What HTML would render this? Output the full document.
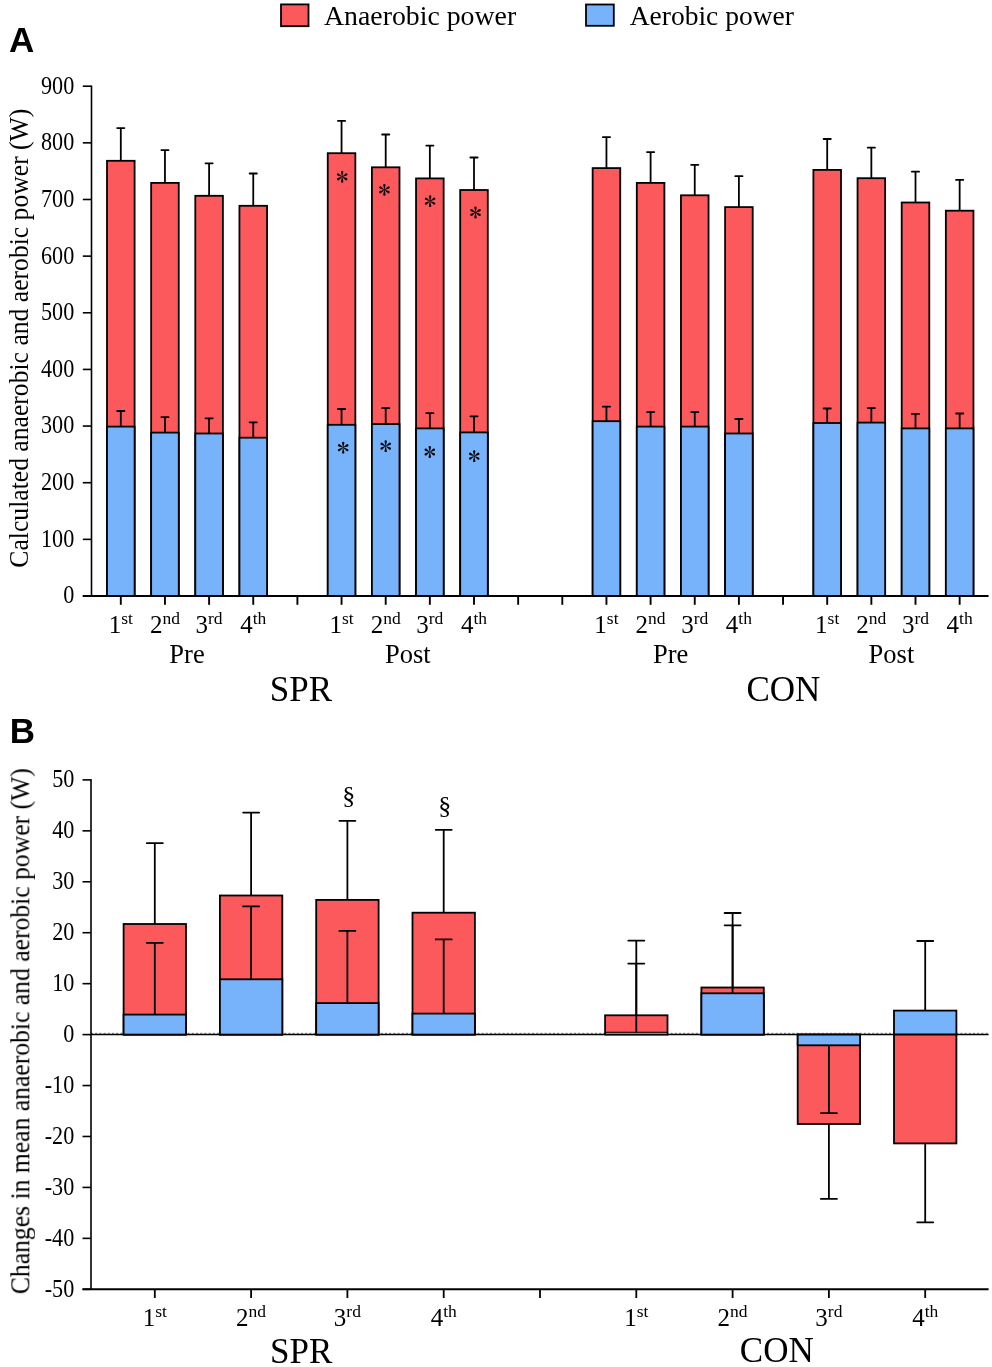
<!DOCTYPE html><html><head><meta charset="utf-8"><style>html,body{margin:0;padding:0;background:#fff;overflow:hidden}svg{display:block}</style></head><body><svg width="992" height="1367" viewBox="0 0 992 1367">
<rect width="992" height="1367" fill="#fff"/>
<rect x="281" y="4.4" width="27.5" height="21.8" fill="#FC595C" stroke="#000" stroke-width="1.8"/>
<rect x="586" y="4.5" width="27.8" height="21.3" fill="#77B3FB" stroke="#000" stroke-width="1.8"/>
<rect x="107.00" y="160.8" width="27.6" height="435.20" fill="#FC595C" stroke="#000" stroke-width="1.8"/>
<rect x="107.00" y="426.6" width="27.6" height="169.40" fill="#77B3FB" stroke="#000" stroke-width="1.8"/>
<line x1="120.8" y1="160.8" x2="120.8" y2="128.1" stroke="#000" stroke-width="1.8"/><line x1="117.2" y1="128.1" x2="124.39999999999999" y2="128.1" stroke="#000" stroke-width="1.8" stroke-linecap="round"/>
<line x1="120.8" y1="426.6" x2="120.8" y2="411.0" stroke="#000" stroke-width="1.8"/><line x1="117.2" y1="411.0" x2="124.39999999999999" y2="411.0" stroke="#000" stroke-width="1.8" stroke-linecap="round"/>
<rect x="151.15" y="182.9" width="27.6" height="413.10" fill="#FC595C" stroke="#000" stroke-width="1.8"/>
<rect x="151.15" y="432.6" width="27.6" height="163.40" fill="#77B3FB" stroke="#000" stroke-width="1.8"/>
<line x1="164.95" y1="182.9" x2="164.95" y2="150.1" stroke="#000" stroke-width="1.8"/><line x1="161.35" y1="150.1" x2="168.54999999999998" y2="150.1" stroke="#000" stroke-width="1.8" stroke-linecap="round"/>
<line x1="164.95" y1="432.6" x2="164.95" y2="417.2" stroke="#000" stroke-width="1.8"/><line x1="161.35" y1="417.2" x2="168.54999999999998" y2="417.2" stroke="#000" stroke-width="1.8" stroke-linecap="round"/>
<rect x="195.30" y="195.8" width="27.6" height="400.20" fill="#FC595C" stroke="#000" stroke-width="1.8"/>
<rect x="195.30" y="433.5" width="27.6" height="162.50" fill="#77B3FB" stroke="#000" stroke-width="1.8"/>
<line x1="209.1" y1="195.8" x2="209.1" y2="163.3" stroke="#000" stroke-width="1.8"/><line x1="205.5" y1="163.3" x2="212.7" y2="163.3" stroke="#000" stroke-width="1.8" stroke-linecap="round"/>
<line x1="209.1" y1="433.5" x2="209.1" y2="418.3" stroke="#000" stroke-width="1.8"/><line x1="205.5" y1="418.3" x2="212.7" y2="418.3" stroke="#000" stroke-width="1.8" stroke-linecap="round"/>
<rect x="239.45" y="205.8" width="27.6" height="390.20" fill="#FC595C" stroke="#000" stroke-width="1.8"/>
<rect x="239.45" y="437.7" width="27.6" height="158.30" fill="#77B3FB" stroke="#000" stroke-width="1.8"/>
<line x1="253.25" y1="205.8" x2="253.25" y2="173.5" stroke="#000" stroke-width="1.8"/><line x1="249.65" y1="173.5" x2="256.85" y2="173.5" stroke="#000" stroke-width="1.8" stroke-linecap="round"/>
<line x1="253.25" y1="437.7" x2="253.25" y2="422.3" stroke="#000" stroke-width="1.8"/><line x1="249.65" y1="422.3" x2="256.85" y2="422.3" stroke="#000" stroke-width="1.8" stroke-linecap="round"/>
<rect x="327.75" y="153.2" width="27.6" height="442.80" fill="#FC595C" stroke="#000" stroke-width="1.8"/>
<rect x="327.75" y="424.8" width="27.6" height="171.20" fill="#77B3FB" stroke="#000" stroke-width="1.8"/>
<line x1="341.55" y1="153.2" x2="341.55" y2="120.9" stroke="#000" stroke-width="1.8"/><line x1="337.95" y1="120.9" x2="345.15000000000003" y2="120.9" stroke="#000" stroke-width="1.8" stroke-linecap="round"/>
<line x1="341.55" y1="424.8" x2="341.55" y2="409.0" stroke="#000" stroke-width="1.8"/><line x1="337.95" y1="409.0" x2="345.15000000000003" y2="409.0" stroke="#000" stroke-width="1.8" stroke-linecap="round"/>
<rect x="371.90" y="167.3" width="27.6" height="428.70" fill="#FC595C" stroke="#000" stroke-width="1.8"/>
<rect x="371.90" y="424.1" width="27.6" height="171.90" fill="#77B3FB" stroke="#000" stroke-width="1.8"/>
<line x1="385.7" y1="167.3" x2="385.7" y2="134.5" stroke="#000" stroke-width="1.8"/><line x1="382.09999999999997" y1="134.5" x2="389.3" y2="134.5" stroke="#000" stroke-width="1.8" stroke-linecap="round"/>
<line x1="385.7" y1="424.1" x2="385.7" y2="408.1" stroke="#000" stroke-width="1.8"/><line x1="382.09999999999997" y1="408.1" x2="389.3" y2="408.1" stroke="#000" stroke-width="1.8" stroke-linecap="round"/>
<rect x="416.05" y="178.4" width="27.6" height="417.60" fill="#FC595C" stroke="#000" stroke-width="1.8"/>
<rect x="416.05" y="428.4" width="27.6" height="167.60" fill="#77B3FB" stroke="#000" stroke-width="1.8"/>
<line x1="429.85" y1="178.4" x2="429.85" y2="145.6" stroke="#000" stroke-width="1.8"/><line x1="426.25" y1="145.6" x2="433.45000000000005" y2="145.6" stroke="#000" stroke-width="1.8" stroke-linecap="round"/>
<line x1="429.85" y1="428.4" x2="429.85" y2="413.2" stroke="#000" stroke-width="1.8"/><line x1="426.25" y1="413.2" x2="433.45000000000005" y2="413.2" stroke="#000" stroke-width="1.8" stroke-linecap="round"/>
<rect x="460.20" y="190.0" width="27.6" height="406.00" fill="#FC595C" stroke="#000" stroke-width="1.8"/>
<rect x="460.20" y="432.4" width="27.6" height="163.60" fill="#77B3FB" stroke="#000" stroke-width="1.8"/>
<line x1="474.0" y1="190.0" x2="474.0" y2="157.5" stroke="#000" stroke-width="1.8"/><line x1="470.4" y1="157.5" x2="477.6" y2="157.5" stroke="#000" stroke-width="1.8" stroke-linecap="round"/>
<line x1="474.0" y1="432.4" x2="474.0" y2="416.3" stroke="#000" stroke-width="1.8"/><line x1="470.4" y1="416.3" x2="477.6" y2="416.3" stroke="#000" stroke-width="1.8" stroke-linecap="round"/>
<rect x="592.65" y="168.1" width="27.6" height="427.90" fill="#FC595C" stroke="#000" stroke-width="1.8"/>
<rect x="592.65" y="421.2" width="27.6" height="174.80" fill="#77B3FB" stroke="#000" stroke-width="1.8"/>
<line x1="606.45" y1="168.1" x2="606.45" y2="137.2" stroke="#000" stroke-width="1.8"/><line x1="602.85" y1="137.2" x2="610.0500000000001" y2="137.2" stroke="#000" stroke-width="1.8" stroke-linecap="round"/>
<line x1="606.45" y1="421.2" x2="606.45" y2="406.7" stroke="#000" stroke-width="1.8"/><line x1="602.85" y1="406.7" x2="610.0500000000001" y2="406.7" stroke="#000" stroke-width="1.8" stroke-linecap="round"/>
<rect x="636.80" y="182.9" width="27.6" height="413.10" fill="#FC595C" stroke="#000" stroke-width="1.8"/>
<rect x="636.80" y="426.6" width="27.6" height="169.40" fill="#77B3FB" stroke="#000" stroke-width="1.8"/>
<line x1="650.6" y1="182.9" x2="650.6" y2="152.1" stroke="#000" stroke-width="1.8"/><line x1="647.0" y1="152.1" x2="654.2" y2="152.1" stroke="#000" stroke-width="1.8" stroke-linecap="round"/>
<line x1="650.6" y1="426.6" x2="650.6" y2="412.1" stroke="#000" stroke-width="1.8"/><line x1="647.0" y1="412.1" x2="654.2" y2="412.1" stroke="#000" stroke-width="1.8" stroke-linecap="round"/>
<rect x="680.95" y="195.3" width="27.6" height="400.70" fill="#FC595C" stroke="#000" stroke-width="1.8"/>
<rect x="680.95" y="426.6" width="27.6" height="169.40" fill="#77B3FB" stroke="#000" stroke-width="1.8"/>
<line x1="694.75" y1="195.3" x2="694.75" y2="164.8" stroke="#000" stroke-width="1.8"/><line x1="691.15" y1="164.8" x2="698.35" y2="164.8" stroke="#000" stroke-width="1.8" stroke-linecap="round"/>
<line x1="694.75" y1="426.6" x2="694.75" y2="412.1" stroke="#000" stroke-width="1.8"/><line x1="691.15" y1="412.1" x2="698.35" y2="412.1" stroke="#000" stroke-width="1.8" stroke-linecap="round"/>
<rect x="725.10" y="207.1" width="27.6" height="388.90" fill="#FC595C" stroke="#000" stroke-width="1.8"/>
<rect x="725.10" y="433.5" width="27.6" height="162.50" fill="#77B3FB" stroke="#000" stroke-width="1.8"/>
<line x1="738.9" y1="207.1" x2="738.9" y2="176.2" stroke="#000" stroke-width="1.8"/><line x1="735.3" y1="176.2" x2="742.5" y2="176.2" stroke="#000" stroke-width="1.8" stroke-linecap="round"/>
<line x1="738.9" y1="433.5" x2="738.9" y2="419.0" stroke="#000" stroke-width="1.8"/><line x1="735.3" y1="419.0" x2="742.5" y2="419.0" stroke="#000" stroke-width="1.8" stroke-linecap="round"/>
<rect x="813.40" y="169.9" width="27.6" height="426.10" fill="#FC595C" stroke="#000" stroke-width="1.8"/>
<rect x="813.40" y="423.0" width="27.6" height="173.00" fill="#77B3FB" stroke="#000" stroke-width="1.8"/>
<line x1="827.2" y1="169.9" x2="827.2" y2="139.0" stroke="#000" stroke-width="1.8"/><line x1="823.6" y1="139.0" x2="830.8000000000001" y2="139.0" stroke="#000" stroke-width="1.8" stroke-linecap="round"/>
<line x1="827.2" y1="423.0" x2="827.2" y2="408.5" stroke="#000" stroke-width="1.8"/><line x1="823.6" y1="408.5" x2="830.8000000000001" y2="408.5" stroke="#000" stroke-width="1.8" stroke-linecap="round"/>
<rect x="857.55" y="178.2" width="27.6" height="417.80" fill="#FC595C" stroke="#000" stroke-width="1.8"/>
<rect x="857.55" y="422.6" width="27.6" height="173.40" fill="#77B3FB" stroke="#000" stroke-width="1.8"/>
<line x1="871.35" y1="178.2" x2="871.35" y2="147.7" stroke="#000" stroke-width="1.8"/><line x1="867.75" y1="147.7" x2="874.95" y2="147.7" stroke="#000" stroke-width="1.8" stroke-linecap="round"/>
<line x1="871.35" y1="422.6" x2="871.35" y2="408.1" stroke="#000" stroke-width="1.8"/><line x1="867.75" y1="408.1" x2="874.95" y2="408.1" stroke="#000" stroke-width="1.8" stroke-linecap="round"/>
<rect x="901.70" y="202.5" width="27.6" height="393.50" fill="#FC595C" stroke="#000" stroke-width="1.8"/>
<rect x="901.70" y="428.4" width="27.6" height="167.60" fill="#77B3FB" stroke="#000" stroke-width="1.8"/>
<line x1="915.5" y1="202.5" x2="915.5" y2="171.7" stroke="#000" stroke-width="1.8"/><line x1="911.9" y1="171.7" x2="919.1" y2="171.7" stroke="#000" stroke-width="1.8" stroke-linecap="round"/>
<line x1="915.5" y1="428.4" x2="915.5" y2="413.9" stroke="#000" stroke-width="1.8"/><line x1="911.9" y1="413.9" x2="919.1" y2="413.9" stroke="#000" stroke-width="1.8" stroke-linecap="round"/>
<rect x="945.85" y="210.7" width="27.6" height="385.30" fill="#FC595C" stroke="#000" stroke-width="1.8"/>
<rect x="945.85" y="428.4" width="27.6" height="167.60" fill="#77B3FB" stroke="#000" stroke-width="1.8"/>
<line x1="959.65" y1="210.7" x2="959.65" y2="179.9" stroke="#000" stroke-width="1.8"/><line x1="956.05" y1="179.9" x2="963.25" y2="179.9" stroke="#000" stroke-width="1.8" stroke-linecap="round"/>
<line x1="959.65" y1="428.4" x2="959.65" y2="413.5" stroke="#000" stroke-width="1.8"/><line x1="956.05" y1="413.5" x2="963.25" y2="413.5" stroke="#000" stroke-width="1.8" stroke-linecap="round"/>
<path d="M342.43,176.10 L343.35,172.10 A1.20,1.20 0 1 0 340.95,172.10 L341.87,176.10 Z M342.90,176.69 L346.82,175.49 A1.20,1.20 0 1 0 345.62,173.41 L342.62,176.21 Z M342.62,177.39 L345.62,180.19 A1.20,1.20 0 1 0 346.82,178.11 L342.90,176.91 Z M341.87,177.50 L340.95,181.50 A1.20,1.20 0 1 0 343.35,181.50 L342.43,177.50 Z M341.40,176.91 L337.48,178.11 A1.20,1.20 0 1 0 338.68,180.19 L341.68,177.39 Z M341.68,176.21 L338.68,173.41 A1.20,1.20 0 1 0 337.48,175.49 L341.40,176.69 Z" fill="#000"/><circle cx="342.15" cy="176.80" r="0.8" fill="#000"/>
<path d="M384.68,189.10 L385.60,185.10 A1.20,1.20 0 1 0 383.20,185.10 L384.12,189.10 Z M385.15,189.69 L389.07,188.49 A1.20,1.20 0 1 0 387.87,186.41 L384.87,189.21 Z M384.87,190.39 L387.87,193.19 A1.20,1.20 0 1 0 389.07,191.11 L385.15,189.91 Z M384.12,190.50 L383.20,194.50 A1.20,1.20 0 1 0 385.60,194.50 L384.68,190.50 Z M383.65,189.91 L379.73,191.11 A1.20,1.20 0 1 0 380.93,193.19 L383.93,190.39 Z M383.93,189.21 L380.93,186.41 A1.20,1.20 0 1 0 379.73,188.49 L383.65,189.69 Z" fill="#000"/><circle cx="384.40" cy="189.80" r="0.8" fill="#000"/>
<path d="M430.38,200.40 L431.30,196.40 A1.20,1.20 0 1 0 428.90,196.40 L429.82,200.40 Z M430.85,200.99 L434.77,199.79 A1.20,1.20 0 1 0 433.57,197.71 L430.57,200.51 Z M430.57,201.69 L433.57,204.49 A1.20,1.20 0 1 0 434.77,202.41 L430.85,201.21 Z M429.82,201.80 L428.90,205.80 A1.20,1.20 0 1 0 431.30,205.80 L430.38,201.80 Z M429.35,201.21 L425.43,202.41 A1.20,1.20 0 1 0 426.63,204.49 L429.63,201.69 Z M429.63,200.51 L426.63,197.71 A1.20,1.20 0 1 0 425.43,199.79 L429.35,200.99 Z" fill="#000"/><circle cx="430.10" cy="201.10" r="0.8" fill="#000"/>
<path d="M475.78,211.80 L476.70,207.80 A1.20,1.20 0 1 0 474.30,207.80 L475.22,211.80 Z M476.25,212.39 L480.17,211.19 A1.20,1.20 0 1 0 478.97,209.11 L475.97,211.91 Z M475.97,213.09 L478.97,215.89 A1.20,1.20 0 1 0 480.17,213.81 L476.25,212.61 Z M475.22,213.20 L474.30,217.20 A1.20,1.20 0 1 0 476.70,217.20 L475.78,213.20 Z M474.75,212.61 L470.83,213.81 A1.20,1.20 0 1 0 472.03,215.89 L475.03,213.09 Z M475.03,211.91 L472.03,209.11 A1.20,1.20 0 1 0 470.83,211.19 L474.75,212.39 Z" fill="#000"/><circle cx="475.50" cy="212.50" r="0.8" fill="#000"/>
<path d="M343.48,447.00 L344.40,443.00 A1.20,1.20 0 1 0 342.00,443.00 L342.92,447.00 Z M343.95,447.59 L347.87,446.39 A1.20,1.20 0 1 0 346.67,444.31 L343.67,447.11 Z M343.67,448.29 L346.67,451.09 A1.20,1.20 0 1 0 347.87,449.01 L343.95,447.81 Z M342.92,448.40 L342.00,452.40 A1.20,1.20 0 1 0 344.40,452.40 L343.48,448.40 Z M342.45,447.81 L338.53,449.01 A1.20,1.20 0 1 0 339.73,451.09 L342.73,448.29 Z M342.73,447.11 L339.73,444.31 A1.20,1.20 0 1 0 338.53,446.39 L342.45,447.59 Z" fill="#000"/><circle cx="343.20" cy="447.70" r="0.8" fill="#000"/>
<path d="M385.98,445.50 L386.90,441.50 A1.20,1.20 0 1 0 384.50,441.50 L385.42,445.50 Z M386.45,446.09 L390.37,444.89 A1.20,1.20 0 1 0 389.17,442.81 L386.17,445.61 Z M386.17,446.79 L389.17,449.59 A1.20,1.20 0 1 0 390.37,447.51 L386.45,446.31 Z M385.42,446.90 L384.50,450.90 A1.20,1.20 0 1 0 386.90,450.90 L385.98,446.90 Z M384.95,446.31 L381.03,447.51 A1.20,1.20 0 1 0 382.23,449.59 L385.23,446.79 Z M385.23,445.61 L382.23,442.81 A1.20,1.20 0 1 0 381.03,444.89 L384.95,446.09 Z" fill="#000"/><circle cx="385.70" cy="446.20" r="0.8" fill="#000"/>
<path d="M430.08,451.30 L431.00,447.30 A1.20,1.20 0 1 0 428.60,447.30 L429.52,451.30 Z M430.55,451.89 L434.47,450.69 A1.20,1.20 0 1 0 433.27,448.61 L430.27,451.41 Z M430.27,452.59 L433.27,455.39 A1.20,1.20 0 1 0 434.47,453.31 L430.55,452.11 Z M429.52,452.70 L428.60,456.70 A1.20,1.20 0 1 0 431.00,456.70 L430.08,452.70 Z M429.05,452.11 L425.13,453.31 A1.20,1.20 0 1 0 426.33,455.39 L429.33,452.59 Z M429.33,451.41 L426.33,448.61 A1.20,1.20 0 1 0 425.13,450.69 L429.05,451.89 Z" fill="#000"/><circle cx="429.80" cy="452.00" r="0.8" fill="#000"/>
<path d="M474.48,455.50 L475.40,451.50 A1.20,1.20 0 1 0 473.00,451.50 L473.92,455.50 Z M474.95,456.09 L478.87,454.89 A1.20,1.20 0 1 0 477.67,452.81 L474.67,455.61 Z M474.67,456.79 L477.67,459.59 A1.20,1.20 0 1 0 478.87,457.51 L474.95,456.31 Z M473.92,456.90 L473.00,460.90 A1.20,1.20 0 1 0 475.40,460.90 L474.48,456.90 Z M473.45,456.31 L469.53,457.51 A1.20,1.20 0 1 0 470.73,459.59 L473.73,456.79 Z M473.73,455.61 L470.73,452.81 A1.20,1.20 0 1 0 469.53,454.89 L473.45,456.09 Z" fill="#000"/><circle cx="474.20" cy="456.20" r="0.8" fill="#000"/>
<line x1="91.5" y1="85.4" x2="91.5" y2="596.0" stroke="#000" stroke-width="1.6"/>
<line x1="82.8" y1="596.00" x2="91.5" y2="596.00" stroke="#000" stroke-width="1.6"/>
<line x1="82.8" y1="539.36" x2="91.5" y2="539.36" stroke="#000" stroke-width="1.6"/>
<line x1="82.8" y1="482.71" x2="91.5" y2="482.71" stroke="#000" stroke-width="1.6"/>
<line x1="82.8" y1="426.07" x2="91.5" y2="426.07" stroke="#000" stroke-width="1.6"/>
<line x1="82.8" y1="369.42" x2="91.5" y2="369.42" stroke="#000" stroke-width="1.6"/>
<line x1="82.8" y1="312.78" x2="91.5" y2="312.78" stroke="#000" stroke-width="1.6"/>
<line x1="82.8" y1="256.13" x2="91.5" y2="256.13" stroke="#000" stroke-width="1.6"/>
<line x1="82.8" y1="199.49" x2="91.5" y2="199.49" stroke="#000" stroke-width="1.6"/>
<line x1="82.8" y1="142.84" x2="91.5" y2="142.84" stroke="#000" stroke-width="1.6"/>
<line x1="82.8" y1="86.20" x2="91.5" y2="86.20" stroke="#000" stroke-width="1.6"/>
<line x1="82.8" y1="596.0" x2="988.6" y2="596.0" stroke="#000" stroke-width="2.0"/>
<line x1="120.80" y1="596.0" x2="120.80" y2="604.8" stroke="#000" stroke-width="1.9"/>
<line x1="164.95" y1="596.0" x2="164.95" y2="604.8" stroke="#000" stroke-width="1.9"/>
<line x1="209.10" y1="596.0" x2="209.10" y2="604.8" stroke="#000" stroke-width="1.9"/>
<line x1="253.25" y1="596.0" x2="253.25" y2="604.8" stroke="#000" stroke-width="1.9"/>
<line x1="297.40" y1="596.0" x2="297.40" y2="604.8" stroke="#000" stroke-width="1.9"/>
<line x1="341.55" y1="596.0" x2="341.55" y2="604.8" stroke="#000" stroke-width="1.9"/>
<line x1="385.70" y1="596.0" x2="385.70" y2="604.8" stroke="#000" stroke-width="1.9"/>
<line x1="429.85" y1="596.0" x2="429.85" y2="604.8" stroke="#000" stroke-width="1.9"/>
<line x1="474.00" y1="596.0" x2="474.00" y2="604.8" stroke="#000" stroke-width="1.9"/>
<line x1="518.15" y1="596.0" x2="518.15" y2="604.8" stroke="#000" stroke-width="1.9"/>
<line x1="562.30" y1="596.0" x2="562.30" y2="604.8" stroke="#000" stroke-width="1.9"/>
<line x1="606.45" y1="596.0" x2="606.45" y2="604.8" stroke="#000" stroke-width="1.9"/>
<line x1="650.60" y1="596.0" x2="650.60" y2="604.8" stroke="#000" stroke-width="1.9"/>
<line x1="694.75" y1="596.0" x2="694.75" y2="604.8" stroke="#000" stroke-width="1.9"/>
<line x1="738.90" y1="596.0" x2="738.90" y2="604.8" stroke="#000" stroke-width="1.9"/>
<line x1="783.05" y1="596.0" x2="783.05" y2="604.8" stroke="#000" stroke-width="1.9"/>
<line x1="827.20" y1="596.0" x2="827.20" y2="604.8" stroke="#000" stroke-width="1.9"/>
<line x1="871.35" y1="596.0" x2="871.35" y2="604.8" stroke="#000" stroke-width="1.9"/>
<line x1="915.50" y1="596.0" x2="915.50" y2="604.8" stroke="#000" stroke-width="1.9"/>
<line x1="959.65" y1="596.0" x2="959.65" y2="604.8" stroke="#000" stroke-width="1.9"/>
<line x1="91.0" y1="1034.50" x2="988.6" y2="1034.50" stroke="#000" stroke-width="1.7"/>
<line x1="91.0" y1="1033.30" x2="988.6" y2="1033.30" stroke="#000" stroke-opacity="0.6" stroke-width="0.9" stroke-dasharray="2 2.2"/>
<rect x="123.60" y="924.0" width="62.4" height="110.60" fill="#FC595C" stroke="#000" stroke-width="1.8"/>
<rect x="123.60" y="1014.6" width="62.4" height="20.00" fill="#77B3FB" stroke="#000" stroke-width="1.8"/>
<line x1="154.8" y1="924.0" x2="154.8" y2="843.2" stroke="#000" stroke-width="1.8"/><line x1="146.8" y1="843.2" x2="162.8" y2="843.2" stroke="#000" stroke-width="1.8" stroke-linecap="round"/>
<line x1="154.8" y1="1014.6" x2="154.8" y2="942.8" stroke="#000" stroke-width="1.8"/><line x1="146.8" y1="942.8" x2="162.8" y2="942.8" stroke="#000" stroke-width="1.8" stroke-linecap="round"/>
<rect x="219.90" y="895.5" width="62.4" height="139.10" fill="#FC595C" stroke="#000" stroke-width="1.8"/>
<rect x="219.90" y="979.3" width="62.4" height="55.30" fill="#77B3FB" stroke="#000" stroke-width="1.8"/>
<line x1="251.1" y1="895.5" x2="251.1" y2="812.6" stroke="#000" stroke-width="1.8"/><line x1="243.1" y1="812.6" x2="259.1" y2="812.6" stroke="#000" stroke-width="1.8" stroke-linecap="round"/>
<line x1="251.1" y1="979.3" x2="251.1" y2="906.4" stroke="#000" stroke-width="1.8"/><line x1="243.1" y1="906.4" x2="259.1" y2="906.4" stroke="#000" stroke-width="1.8" stroke-linecap="round"/>
<rect x="316.20" y="899.9" width="62.4" height="134.70" fill="#FC595C" stroke="#000" stroke-width="1.8"/>
<rect x="316.20" y="1003.1" width="62.4" height="31.50" fill="#77B3FB" stroke="#000" stroke-width="1.8"/>
<line x1="347.4" y1="899.9" x2="347.4" y2="820.8" stroke="#000" stroke-width="1.8"/><line x1="339.4" y1="820.8" x2="355.4" y2="820.8" stroke="#000" stroke-width="1.8" stroke-linecap="round"/>
<line x1="347.4" y1="1003.1" x2="347.4" y2="930.9" stroke="#000" stroke-width="1.8"/><line x1="339.4" y1="930.9" x2="355.4" y2="930.9" stroke="#000" stroke-width="1.8" stroke-linecap="round"/>
<rect x="412.50" y="912.7" width="62.4" height="121.90" fill="#FC595C" stroke="#000" stroke-width="1.8"/>
<rect x="412.50" y="1013.6" width="62.4" height="21.00" fill="#77B3FB" stroke="#000" stroke-width="1.8"/>
<line x1="443.7" y1="912.7" x2="443.7" y2="829.8" stroke="#000" stroke-width="1.8"/><line x1="435.7" y1="829.8" x2="451.7" y2="829.8" stroke="#000" stroke-width="1.8" stroke-linecap="round"/>
<line x1="443.7" y1="1013.6" x2="443.7" y2="939.4" stroke="#000" stroke-width="1.8"/><line x1="435.7" y1="939.4" x2="451.7" y2="939.4" stroke="#000" stroke-width="1.8" stroke-linecap="round"/>
<rect x="605.10" y="1015.3" width="62.4" height="19.30" fill="#FC595C" stroke="#000" stroke-width="1.8"/>
<rect x="606.00" y="1032.80" width="60.60" height="1.2" fill="#5f8fc9"/>
<line x1="605.10" y1="1032.20" x2="667.50" y2="1032.20" stroke="#000" stroke-width="1.1"/>
<line x1="636.3" y1="1015.3" x2="636.3" y2="940.6" stroke="#000" stroke-width="1.8"/><line x1="628.3" y1="940.6" x2="644.3" y2="940.6" stroke="#000" stroke-width="1.8" stroke-linecap="round"/>
<line x1="636.3" y1="1032.5" x2="636.3" y2="963.6" stroke="#000" stroke-width="1.8"/><line x1="628.3" y1="963.6" x2="644.3" y2="963.6" stroke="#000" stroke-width="1.8" stroke-linecap="round"/>
<rect x="701.40" y="987.5" width="62.4" height="47.10" fill="#FC595C" stroke="#000" stroke-width="1.8"/>
<rect x="701.40" y="993.3" width="62.4" height="41.30" fill="#77B3FB" stroke="#000" stroke-width="1.8"/>
<line x1="732.6" y1="987.5" x2="732.6" y2="913.0" stroke="#000" stroke-width="1.8"/><line x1="724.6" y1="913.0" x2="740.6" y2="913.0" stroke="#000" stroke-width="1.8" stroke-linecap="round"/>
<line x1="732.6" y1="993.3" x2="732.6" y2="925.3" stroke="#000" stroke-width="1.8"/><line x1="724.6" y1="925.3" x2="740.6" y2="925.3" stroke="#000" stroke-width="1.8" stroke-linecap="round"/>
<rect x="797.70" y="1034.6" width="62.4" height="89.40" fill="#FC595C" stroke="#000" stroke-width="1.8"/>
<rect x="797.70" y="1034.6" width="62.4" height="10.70" fill="#77B3FB" stroke="#000" stroke-width="1.8"/>
<line x1="828.9" y1="1045.3" x2="828.9" y2="1113.2" stroke="#000" stroke-width="1.8"/><line x1="820.9" y1="1113.2" x2="836.9" y2="1113.2" stroke="#000" stroke-width="1.8" stroke-linecap="round"/>
<line x1="828.9" y1="1124.0" x2="828.9" y2="1198.9" stroke="#000" stroke-width="1.8"/><line x1="820.9" y1="1198.9" x2="836.9" y2="1198.9" stroke="#000" stroke-width="1.8" stroke-linecap="round"/>
<rect x="894.00" y="1010.6" width="62.4" height="24.00" fill="#77B3FB" stroke="#000" stroke-width="1.8"/>
<rect x="894.00" y="1034.6" width="62.4" height="108.80" fill="#FC595C" stroke="#000" stroke-width="1.8"/>
<line x1="925.2" y1="1010.6" x2="925.2" y2="941.0" stroke="#000" stroke-width="1.8"/><line x1="917.2" y1="941.0" x2="933.2" y2="941.0" stroke="#000" stroke-width="1.8" stroke-linecap="round"/>
<line x1="925.2" y1="1143.4" x2="925.2" y2="1222.3" stroke="#000" stroke-width="1.8"/><line x1="917.2" y1="1222.3" x2="933.2" y2="1222.3" stroke="#000" stroke-width="1.8" stroke-linecap="round"/>
<line x1="91.0" y1="779.1" x2="91.0" y2="1289.3" stroke="#000" stroke-width="1.6"/>
<line x1="82.5" y1="779.90" x2="91.0" y2="779.90" stroke="#000" stroke-width="1.6"/>
<line x1="82.5" y1="830.84" x2="91.0" y2="830.84" stroke="#000" stroke-width="1.6"/>
<line x1="82.5" y1="881.78" x2="91.0" y2="881.78" stroke="#000" stroke-width="1.6"/>
<line x1="82.5" y1="932.72" x2="91.0" y2="932.72" stroke="#000" stroke-width="1.6"/>
<line x1="82.5" y1="983.66" x2="91.0" y2="983.66" stroke="#000" stroke-width="1.6"/>
<line x1="82.5" y1="1034.60" x2="91.0" y2="1034.60" stroke="#000" stroke-width="1.6"/>
<line x1="82.5" y1="1085.54" x2="91.0" y2="1085.54" stroke="#000" stroke-width="1.6"/>
<line x1="82.5" y1="1136.48" x2="91.0" y2="1136.48" stroke="#000" stroke-width="1.6"/>
<line x1="82.5" y1="1187.42" x2="91.0" y2="1187.42" stroke="#000" stroke-width="1.6"/>
<line x1="82.5" y1="1238.36" x2="91.0" y2="1238.36" stroke="#000" stroke-width="1.6"/>
<line x1="82.5" y1="1289.30" x2="91.0" y2="1289.30" stroke="#000" stroke-width="1.6"/>
<line x1="82.5" y1="1289.3" x2="988.6" y2="1289.3" stroke="#000" stroke-width="1.9"/>
<line x1="154.80" y1="1289.3" x2="154.80" y2="1298" stroke="#000" stroke-width="1.8"/>
<line x1="251.10" y1="1289.3" x2="251.10" y2="1298" stroke="#000" stroke-width="1.8"/>
<line x1="347.40" y1="1289.3" x2="347.40" y2="1298" stroke="#000" stroke-width="1.8"/>
<line x1="443.70" y1="1289.3" x2="443.70" y2="1298" stroke="#000" stroke-width="1.8"/>
<line x1="540.00" y1="1289.3" x2="540.00" y2="1298" stroke="#000" stroke-width="1.8"/>
<line x1="636.30" y1="1289.3" x2="636.30" y2="1298" stroke="#000" stroke-width="1.8"/>
<line x1="732.60" y1="1289.3" x2="732.60" y2="1298" stroke="#000" stroke-width="1.8"/>
<line x1="828.90" y1="1289.3" x2="828.90" y2="1298" stroke="#000" stroke-width="1.8"/>
<line x1="925.20" y1="1289.3" x2="925.20" y2="1298" stroke="#000" stroke-width="1.8"/>
<g style="will-change:transform"><text x="324" y="24.6" font-family="Liberation Serif, serif" font-size="27.8">Anaerobic power</text>
<text x="629.7" y="24.6" font-family="Liberation Serif, serif" font-size="27.5">Aerobic power</text>
<text x="9.1" y="51.8" font-family="Liberation Sans, sans-serif" font-weight="bold" font-size="35">A</text>
<text x="9.8" y="743.3" font-family="Liberation Sans, sans-serif" font-weight="bold" font-size="35">B</text>
<text x="74.3" y="603.40" text-anchor="end" font-family="Liberation Serif, serif" font-size="24.5" textLength="11.09" lengthAdjust="spacingAndGlyphs">0</text>
<text x="74.3" y="546.76" text-anchor="end" font-family="Liberation Serif, serif" font-size="24.5" textLength="33.26" lengthAdjust="spacingAndGlyphs">100</text>
<text x="74.3" y="490.11" text-anchor="end" font-family="Liberation Serif, serif" font-size="24.5" textLength="33.26" lengthAdjust="spacingAndGlyphs">200</text>
<text x="74.3" y="433.47" text-anchor="end" font-family="Liberation Serif, serif" font-size="24.5" textLength="33.26" lengthAdjust="spacingAndGlyphs">300</text>
<text x="74.3" y="376.82" text-anchor="end" font-family="Liberation Serif, serif" font-size="24.5" textLength="33.26" lengthAdjust="spacingAndGlyphs">400</text>
<text x="74.3" y="320.18" text-anchor="end" font-family="Liberation Serif, serif" font-size="24.5" textLength="33.26" lengthAdjust="spacingAndGlyphs">500</text>
<text x="74.3" y="263.53" text-anchor="end" font-family="Liberation Serif, serif" font-size="24.5" textLength="33.26" lengthAdjust="spacingAndGlyphs">600</text>
<text x="74.3" y="206.89" text-anchor="end" font-family="Liberation Serif, serif" font-size="24.5" textLength="33.26" lengthAdjust="spacingAndGlyphs">700</text>
<text x="74.3" y="150.24" text-anchor="end" font-family="Liberation Serif, serif" font-size="24.5" textLength="33.26" lengthAdjust="spacingAndGlyphs">800</text>
<text x="74.3" y="93.60" text-anchor="end" font-family="Liberation Serif, serif" font-size="24.5" textLength="33.26" lengthAdjust="spacingAndGlyphs">900</text>
<text x="120.80" y="633" text-anchor="middle" font-family="Liberation Serif, serif" font-size="25">1<tspan font-size="17.5" dy="-8.7">st</tspan></text>
<text x="164.95" y="633" text-anchor="middle" font-family="Liberation Serif, serif" font-size="25">2<tspan font-size="17.5" dy="-8.7">nd</tspan></text>
<text x="209.10" y="633" text-anchor="middle" font-family="Liberation Serif, serif" font-size="25">3<tspan font-size="17.5" dy="-8.7">rd</tspan></text>
<text x="253.25" y="633" text-anchor="middle" font-family="Liberation Serif, serif" font-size="25">4<tspan font-size="17.5" dy="-8.7">th</tspan></text>
<text x="341.55" y="633" text-anchor="middle" font-family="Liberation Serif, serif" font-size="25">1<tspan font-size="17.5" dy="-8.7">st</tspan></text>
<text x="385.70" y="633" text-anchor="middle" font-family="Liberation Serif, serif" font-size="25">2<tspan font-size="17.5" dy="-8.7">nd</tspan></text>
<text x="429.85" y="633" text-anchor="middle" font-family="Liberation Serif, serif" font-size="25">3<tspan font-size="17.5" dy="-8.7">rd</tspan></text>
<text x="474.00" y="633" text-anchor="middle" font-family="Liberation Serif, serif" font-size="25">4<tspan font-size="17.5" dy="-8.7">th</tspan></text>
<text x="606.45" y="633" text-anchor="middle" font-family="Liberation Serif, serif" font-size="25">1<tspan font-size="17.5" dy="-8.7">st</tspan></text>
<text x="650.60" y="633" text-anchor="middle" font-family="Liberation Serif, serif" font-size="25">2<tspan font-size="17.5" dy="-8.7">nd</tspan></text>
<text x="694.75" y="633" text-anchor="middle" font-family="Liberation Serif, serif" font-size="25">3<tspan font-size="17.5" dy="-8.7">rd</tspan></text>
<text x="738.90" y="633" text-anchor="middle" font-family="Liberation Serif, serif" font-size="25">4<tspan font-size="17.5" dy="-8.7">th</tspan></text>
<text x="827.20" y="633" text-anchor="middle" font-family="Liberation Serif, serif" font-size="25">1<tspan font-size="17.5" dy="-8.7">st</tspan></text>
<text x="871.35" y="633" text-anchor="middle" font-family="Liberation Serif, serif" font-size="25">2<tspan font-size="17.5" dy="-8.7">nd</tspan></text>
<text x="915.50" y="633" text-anchor="middle" font-family="Liberation Serif, serif" font-size="25">3<tspan font-size="17.5" dy="-8.7">rd</tspan></text>
<text x="959.65" y="633" text-anchor="middle" font-family="Liberation Serif, serif" font-size="25">4<tspan font-size="17.5" dy="-8.7">th</tspan></text>
<text x="187.03" y="663.4" text-anchor="middle" font-family="Liberation Serif, serif" font-size="26.5">Pre</text>
<text x="407.77" y="663.4" text-anchor="middle" font-family="Liberation Serif, serif" font-size="26.5">Post</text>
<text x="670.67" y="663.4" text-anchor="middle" font-family="Liberation Serif, serif" font-size="26.5">Pre</text>
<text x="891.42" y="663.4" text-anchor="middle" font-family="Liberation Serif, serif" font-size="26.5">Post</text>
<text x="301" y="701.3" text-anchor="middle" font-family="Liberation Serif, serif" font-size="35">SPR</text>
<text x="783.4" y="701.3" text-anchor="middle" font-family="Liberation Serif, serif" font-size="35">CON</text>
<text transform="translate(28.1,338.15) rotate(-90)" text-anchor="middle" font-family="Liberation Serif, serif" font-size="27.5" textLength="459" lengthAdjust="spacingAndGlyphs">Calculated anaerobic and aerobic power (W)</text>
<text x="348.80" y="804.2" text-anchor="middle" font-family="Liberation Serif, serif" font-size="26">§</text>
<text x="444.70" y="813.8" text-anchor="middle" font-family="Liberation Serif, serif" font-size="26">§</text>
<text x="74.3" y="787.30" text-anchor="end" font-family="Liberation Serif, serif" font-size="24.5" textLength="22.17" lengthAdjust="spacingAndGlyphs">50</text>
<text x="74.3" y="838.24" text-anchor="end" font-family="Liberation Serif, serif" font-size="24.5" textLength="22.17" lengthAdjust="spacingAndGlyphs">40</text>
<text x="74.3" y="889.18" text-anchor="end" font-family="Liberation Serif, serif" font-size="24.5" textLength="22.17" lengthAdjust="spacingAndGlyphs">30</text>
<text x="74.3" y="940.12" text-anchor="end" font-family="Liberation Serif, serif" font-size="24.5" textLength="22.17" lengthAdjust="spacingAndGlyphs">20</text>
<text x="74.3" y="991.06" text-anchor="end" font-family="Liberation Serif, serif" font-size="24.5" textLength="22.17" lengthAdjust="spacingAndGlyphs">10</text>
<text x="74.3" y="1042.00" text-anchor="end" font-family="Liberation Serif, serif" font-size="24.5" textLength="11.09" lengthAdjust="spacingAndGlyphs">0</text>
<text x="74.3" y="1092.94" text-anchor="end" font-family="Liberation Serif, serif" font-size="24.5" textLength="29.56" lengthAdjust="spacingAndGlyphs">-10</text>
<text x="74.3" y="1143.88" text-anchor="end" font-family="Liberation Serif, serif" font-size="24.5" textLength="29.56" lengthAdjust="spacingAndGlyphs">-20</text>
<text x="74.3" y="1194.82" text-anchor="end" font-family="Liberation Serif, serif" font-size="24.5" textLength="29.56" lengthAdjust="spacingAndGlyphs">-30</text>
<text x="74.3" y="1245.76" text-anchor="end" font-family="Liberation Serif, serif" font-size="24.5" textLength="29.56" lengthAdjust="spacingAndGlyphs">-40</text>
<text x="74.3" y="1296.70" text-anchor="end" font-family="Liberation Serif, serif" font-size="24.5" textLength="29.56" lengthAdjust="spacingAndGlyphs">-50</text>
<text x="154.80" y="1326" text-anchor="middle" font-family="Liberation Serif, serif" font-size="25">1<tspan font-size="17.5" dy="-8.7">st</tspan></text>
<text x="251.10" y="1326" text-anchor="middle" font-family="Liberation Serif, serif" font-size="25">2<tspan font-size="17.5" dy="-8.7">nd</tspan></text>
<text x="347.40" y="1326" text-anchor="middle" font-family="Liberation Serif, serif" font-size="25">3<tspan font-size="17.5" dy="-8.7">rd</tspan></text>
<text x="443.70" y="1326" text-anchor="middle" font-family="Liberation Serif, serif" font-size="25">4<tspan font-size="17.5" dy="-8.7">th</tspan></text>
<text x="636.30" y="1326" text-anchor="middle" font-family="Liberation Serif, serif" font-size="25">1<tspan font-size="17.5" dy="-8.7">st</tspan></text>
<text x="732.60" y="1326" text-anchor="middle" font-family="Liberation Serif, serif" font-size="25">2<tspan font-size="17.5" dy="-8.7">nd</tspan></text>
<text x="828.90" y="1326" text-anchor="middle" font-family="Liberation Serif, serif" font-size="25">3<tspan font-size="17.5" dy="-8.7">rd</tspan></text>
<text x="925.20" y="1326" text-anchor="middle" font-family="Liberation Serif, serif" font-size="25">4<tspan font-size="17.5" dy="-8.7">th</tspan></text>
<text x="301.1" y="1363" text-anchor="middle" font-family="Liberation Serif, serif" font-size="35">SPR</text>
<text x="776.8" y="1362.3" text-anchor="middle" font-family="Liberation Serif, serif" font-size="35">CON</text>
<text transform="translate(29.3,1031.2) rotate(-90)" text-anchor="middle" font-family="Liberation Serif, serif" font-size="27.5" textLength="526" lengthAdjust="spacingAndGlyphs">Changes in mean anaerobic and aerobic power (W)</text></g>
</svg></body></html>
